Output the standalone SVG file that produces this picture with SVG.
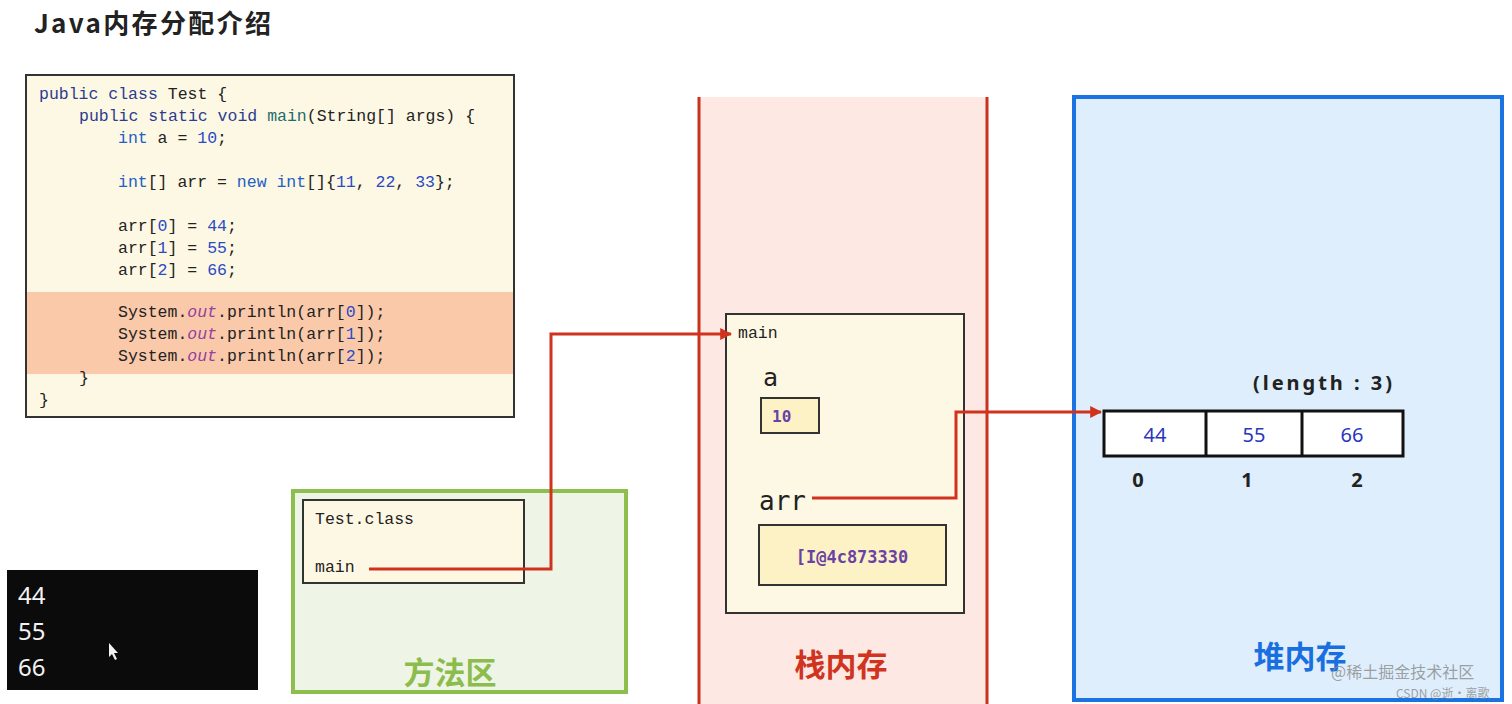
<svg xmlns="http://www.w3.org/2000/svg" width="1512" height="704" viewBox="0 0 1512 704">
<style>
.code{font-family:"Liberation Mono","DejaVu Sans Mono",monospace;font-size:16.5px;fill:#222}
.kw{fill:#2b3c8f}
.ty{fill:#2160c4}
.num{fill:#2a4bc4}
.fn{fill:#1f6b6b}
.out{fill:#94409e;font-style:italic}
.box{fill:#fdf8e4;stroke:#333;stroke-width:2}
.val{fill:#fdf2c6;stroke:#333;stroke-width:2}
.conn{fill:none;stroke:#d0321e;stroke-width:3}
.cn{font-family:"Noto Sans CJK SC","Noto Sans",sans-serif;font-weight:bold;font-size:31px;text-anchor:middle}
.sans{font-family:"Noto Sans","Liberation Sans",sans-serif}
.mono{font-family:"DejaVu Sans Mono","Liberation Mono",monospace}
</style>
<defs>
<marker id="ah" viewBox="0 0 10 10" refX="9" refY="5" markerWidth="4" markerHeight="4" orient="auto" markerUnits="strokeWidth">
<path d="M0,0 L10,5 L0,10 z" fill="#d0321e"/>
</marker>
</defs>
<rect width="1512" height="704" fill="#ffffff"/>
<text x="34" y="33" font-family="Noto Sans CJK SC,Noto Sans,sans-serif" font-weight="bold" font-size="26" fill="#222" textLength="237" lengthAdjust="spacing">Java内存分配介绍</text>

<g id="code">
<rect x="26" y="75" width="488" height="342" fill="#fdf8e4" stroke="#333" stroke-width="2"/>
<rect x="27" y="292" width="486" height="82" fill="#fac9aa"/>
<text class="code" x="39" y="99"><tspan class="kw">public class</tspan> Test {</text>
<text class="code" x="79" y="121"><tspan class="kw">public static void</tspan> <tspan class="fn">main</tspan>(String[] args) {</text>
<text class="code" x="118" y="143"><tspan class="ty">int</tspan> a = <tspan class="num">10</tspan>;</text>
<text class="code" x="118" y="187"><tspan class="ty">int</tspan>[] arr = <tspan class="ty">new int</tspan>[]{<tspan class="num">11</tspan>, <tspan class="num">22</tspan>, <tspan class="num">33</tspan>};</text>
<text class="code" x="118" y="231">arr[<tspan class="num">0</tspan>] = <tspan class="num">44</tspan>;</text>
<text class="code" x="118" y="253">arr[<tspan class="num">1</tspan>] = <tspan class="num">55</tspan>;</text>
<text class="code" x="118" y="275">arr[<tspan class="num">2</tspan>] = <tspan class="num">66</tspan>;</text>
<text class="code" x="118" y="317">System.<tspan class="out">out</tspan>.println(arr[<tspan class="num">0</tspan>]);</text>
<text class="code" x="118" y="339">System.<tspan class="out">out</tspan>.println(arr[<tspan class="num">1</tspan>]);</text>
<text class="code" x="118" y="361">System.<tspan class="out">out</tspan>.println(arr[<tspan class="num">2</tspan>]);</text>
<text class="code" x="79" y="383">}</text>
<text class="code" x="39" y="405">}</text>
</g>

<g id="console">
<rect x="7" y="570" width="251" height="120" fill="#0b0b0b"/>
<text class="sans" x="18" y="604" font-size="24" fill="#f2f2f2">44</text>
<text class="sans" x="18" y="640" font-size="24" fill="#f2f2f2">55</text>
<text class="sans" x="18" y="676" font-size="24" fill="#f2f2f2">66</text>
<path d="M109,643 L109,657 L112,654 L115,660 L117,659 L114,653 L118,653 z" fill="#f2f2f2"/>
</g>

<g id="method-area">
<rect x="293" y="491" width="333" height="201" fill="#eef5e6" stroke="#8cbf4e" stroke-width="4"/>
<text class="cn" x="450" y="684" font-size="29" fill="#8cbd4c">方法区</text>
</g>
<g id="test-class">
<rect class="box" x="303" y="500" width="221" height="83"/>
<text class="code" x="315" y="524">Test.class</text>
<text class="code" x="315" y="572">main</text>
</g>

<g id="stack">
<rect x="699" y="97" width="288" height="607" fill="#fde8e3"/>
<line x1="699" y1="97" x2="699" y2="704" stroke="#c8321e" stroke-width="3"/>
<line x1="987" y1="97" x2="987" y2="704" stroke="#c8321e" stroke-width="3"/>
<text class="cn" x="841" y="676" fill="#d0341e">栈内存</text>
</g>
<g id="main-frame">
<rect class="box" x="726" y="314" width="238" height="299"/>
<text class="code" x="738" y="338" font-size="16">main</text>
<text class="mono" x="763" y="386" font-size="25" fill="#222">a</text>
<rect class="val" x="761" y="398" width="58" height="35"/>
<text class="mono" x="772" y="422" font-size="16" font-weight="bold" fill="#6a42a3">10</text>
<text class="mono" x="759" y="510" font-size="26" fill="#222">arr</text>
<rect class="val" x="759" y="525" width="187" height="60"/>
<text class="mono" x="852" y="563" font-size="17" font-weight="bold" fill="#6a42a3" text-anchor="middle">[I@4c873330</text>
</g>

<g id="heap">
<rect x="1074" y="97" width="428" height="603" fill="#deeefc" stroke="#1a73e0" stroke-width="4"/>
<text class="cn" x="1300" y="668" fill="#1a6fe0">堆内存</text>
</g>
<g id="array">
<text class="sans" x="1253" y="390" font-size="20" font-weight="bold" fill="#222" textLength="139" lengthAdjust="spacing">(length : 3)</text>
<rect x="1104" y="411" width="299" height="45" fill="#ffffff" stroke="#111" stroke-width="3"/>
<line x1="1206" y1="411" x2="1206" y2="456" stroke="#111" stroke-width="3"/>
<line x1="1302" y1="411" x2="1302" y2="456" stroke="#111" stroke-width="3"/>
<text class="sans" x="1155" y="442" font-size="20" fill="#2a35c0" text-anchor="middle">44</text>
<text class="sans" x="1254" y="442" font-size="20" fill="#2a35c0" text-anchor="middle">55</text>
<text class="sans" x="1352" y="442" font-size="20" fill="#2a35c0" text-anchor="middle">66</text>
<text class="sans" x="1138" y="487" font-size="20" font-weight="bold" fill="#222" text-anchor="middle">0</text>
<text class="sans" x="1247" y="487" font-size="20" font-weight="bold" fill="#222" text-anchor="middle">1</text>
<text class="sans" x="1357" y="487" font-size="20" font-weight="bold" fill="#222" text-anchor="middle">2</text>
</g>

<g id="connectors">
<path class="conn" d="M369,569 H551 V334 H731" marker-end="url(#ah)"/>
<path class="conn" d="M812,498 H956 V412 H1101" marker-end="url(#ah)"/>
</g>

<g id="watermark" font-family="Noto Sans CJK SC,sans-serif" fill="#8a8a8a" fill-opacity="0.8">
<text x="1331" y="678" font-size="16">@稀土掘金技术社区</text>
<text x="1396" y="698" font-size="12">CSDN @逝·离歌</text>
</g>
</svg>
